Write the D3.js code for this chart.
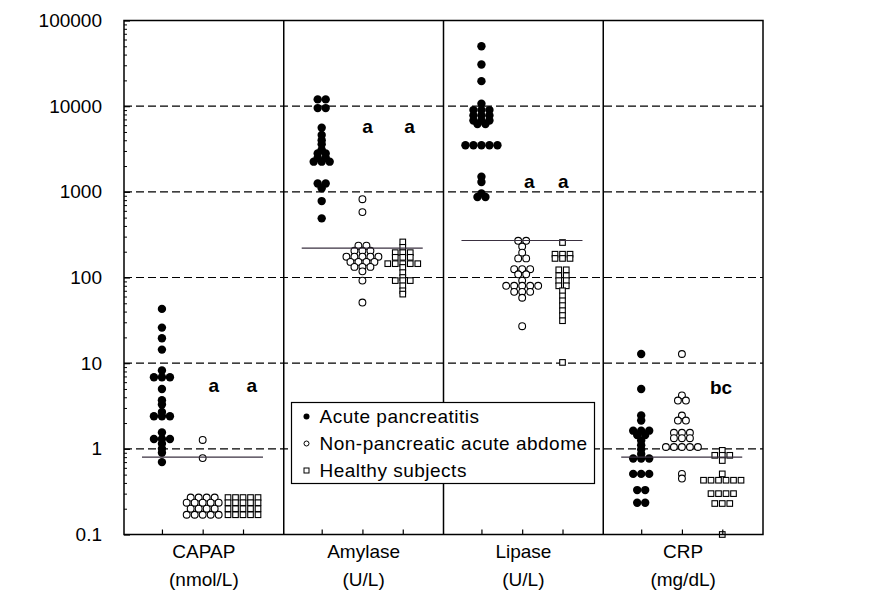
<!DOCTYPE html>
<html>
<head>
<meta charset="utf-8">
<script src="https://cdn.jsdelivr.net/npm/d3@7"></script>
<style>
body { margin: 0; background: #fff; }
text { font-family: "Liberation Sans", Arial, sans-serif; fill: #000; }
</style>
</head>
<body>
<div id="chart"></div>
<script>
// categories and labels
var markers = ["CAPAP", "Amylase", "Lipase", "CRP"];
var markerUnits = ["(nmol/L)", "(U/L)", "(U/L)", "(mg/dL)"];
var groupNames = ["Acute pancreatitis", "Non-pancreatic acute abdome", "Healthy subjects"];
var yTicks = [0.1, 1, 10, 100, 1000, 10000, 100000];
var gridValues = [1, 10, 100, 1000, 10000];

// values (duplicates = points drawn side by side)
var capapAcute = [43, 26, 19.5, 14.4, 8.2, 6.85, 6.85, 6.85, 5.0, 3.7, 3.3, 2.7, 2.4, 2.4, 2.4,
    1.55, 1.3, 1.3, 1.3, 1.15, 1.0, 0.9, 0.7];
var capapNonPanc = [1.27, 0.78, 0.27, 0.27, 0.27, 0.27, 0.235, 0.235, 0.235, 0.235, 0.235,
    0.2, 0.2, 0.2, 0.2, 0.17, 0.17, 0.17, 0.17, 0.17];
var capapHealthy = [0.27, 0.27, 0.27, 0.27, 0.27, 0.235, 0.235, 0.235, 0.235, 0.235,
    0.2, 0.2, 0.2, 0.2, 0.2, 0.17, 0.17, 0.17, 0.17, 0.17];

var amylaseAcute = [12000, 12000, 9500, 9500, 5600, 4600, 4000, 3600, 3100, 2800, 2800,
    2500, 2500, 2250, 2250, 2250, 1250, 1250, 1100, 780, 490];
var amylaseNonPanc = [820, 580, 235, 235, 205, 205, 205, 175, 175, 175, 175, 175,
    152, 152, 152, 152, 133, 133, 133, 118, 92, 51];
var amylaseHealthy = [260, 225, 195, 195, 195, 172, 172, 172, 145, 145, 145, 145, 145,
    131, 114, 100, 92, 92, 92, 80, 70, 64];

var lipaseAcute = [50000, 30700, 19600, 10700, 9000, 9000, 9000, 7800, 7800, 7800,
    6800, 6800, 6800, 6200, 6200, 3500, 3500, 3500, 3500, 3500, 1500, 1300, 960, 870, 870];
var lipaseNonPanc = [268, 268, 230, 195, 167, 167, 125, 125, 125, 109, 109, 92,
    80, 80, 80, 80, 80, 68, 68, 68, 58, 27];
var lipaseHealthy = [256, 187, 187, 187, 167, 167, 167, 123, 123, 105, 105, 92, 92, 80, 80,
    70, 61, 53.5, 47, 41, 36, 31.3, 10.2];

var crpAcute = [12.8, 5.0, 2.45, 2.14, 1.63, 1.63, 1.63, 1.45, 1.45, 1.25, 1.1, 0.98, 0.87,
    0.77, 0.77, 0.77, 0.51, 0.51, 0.51, 0.33, 0.33, 0.235, 0.235];
var crpNonPanc = [12.8, 4.2, 3.66, 3.66, 2.45, 2.14, 2.14, 1.54, 1.54, 1.54, 1.33, 1.33, 1.33,
    1.05, 1.05, 1.05, 1.05, 1.05, 0.51, 0.45];
var crpHealthy = [0.96, 0.84, 0.84, 0.84, 0.73, 0.51, 0.43, 0.43, 0.43, 0.43, 0.43, 0.43,
    0.30, 0.30, 0.30, 0.30, 0.23, 0.23, 0.23, 0.1];

// cut-off lines, one per marker
var cutoffs = [0.8, 220, 270, 0.8];

// significance letters
var letterText = ["a", "a", "a", "a", "a", "a", "bc"];
var letterPos = [2.25, 3.2, 6.1, 7.15, 10.15, 11.0, 14.95];
var letterValue = [5.3, 5.3, 5600, 5600, 1280, 1280, 5.0];

var series = [
    [capapAcute, capapNonPanc, capapHealthy],
    [amylaseAcute, amylaseNonPanc, amylaseHealthy],
    [lipaseAcute, lipaseNonPanc, lipaseHealthy],
    [crpAcute, crpNonPanc, crpHealthy]
];

// position of each group inside a panel (x units, 4 per panel)
var groupOffset = [0.95, 1.97, 2.98];
// horizontal spacing of equal values
var spacing = [8, 8, 7.5];

var width = 873, height = 609;

var x = d3.scaleLinear().domain([0, 16]).range([124, 763]);
var y = d3.scaleLog().domain([0.1, 100000]).range([534.5, 20.5]);

var svg = d3.select("#chart").append("svg")
    .attr("width", width)
    .attr("height", height);

// dashed grid lines
svg.append("g").selectAll("line")
    .data(gridValues)
    .enter().append("line")
    .attr("x1", x(0)).attr("x2", x(16))
    .attr("y1", function(d) { return y(d); })
    .attr("y2", function(d) { return y(d); })
    .attr("stroke", "#000")
    .attr("stroke-width", 1.2)
    .attr("stroke-dasharray", "8,4");

// panel dividers
svg.append("g").selectAll("line")
    .data([4, 8, 12])
    .enter().append("line")
    .attr("x1", function(d) { return x(d); })
    .attr("x2", function(d) { return x(d); })
    .attr("y1", y(100000)).attr("y2", y(0.1))
    .attr("stroke", "#000")
    .attr("stroke-width", 1.5);

// build the points, equal values spread side by side
var points = [];
series.forEach(function(groups, p) {
    groups.forEach(function(vals, g) {
        var counts = d3.rollup(vals, function(v) { return v.length; }, function(v) { return v; });
        var seen = new Map();
        vals.forEach(function(v) {
            var n = counts.get(v);
            var i = seen.get(v) || 0;
            seen.set(v, i + 1);
            points.push({
                panel: p,
                group: g,
                value: v,
                px: x(p * 4 + groupOffset[g]) + (i - (n - 1) / 2) * spacing[g],
                py: y(v)
            });
        });
    });
});

var pts = svg.append("g");

pts.selectAll("circle.acute")
    .data(points.filter(function(d) { return d.group == 0; }))
    .enter().append("circle")
    .attr("class", "acute")
    .attr("cx", function(d) { return d.px; })
    .attr("cy", function(d) { return d.py; })
    .attr("r", 4.2)
    .attr("fill", "#000");

pts.selectAll("circle.nonpanc")
    .data(points.filter(function(d) { return d.group == 1; }))
    .enter().append("circle")
    .attr("class", "nonpanc")
    .attr("cx", function(d) { return d.px; })
    .attr("cy", function(d) { return d.py; })
    .attr("r", 3.4)
    .attr("fill", "#fff")
    .attr("stroke", "#000")
    .attr("stroke-width", 1.1);

pts.selectAll("rect.healthy")
    .data(points.filter(function(d) { return d.group == 2; }))
    .enter().append("rect")
    .attr("class", "healthy")
    .attr("x", function(d) { return d.px - 2.8; })
    .attr("y", function(d) { return d.py - 2.8; })
    .attr("width", 5.6)
    .attr("height", 5.6)
    .attr("fill", "#fff")
    .attr("stroke", "#000")
    .attr("stroke-width", 1.1);

// cut-off lines
svg.append("g").selectAll("line")
    .data(cutoffs)
    .enter().append("line")
    .attr("x1", function(d, i) { return x(i * 4 + groupOffset[0] - 0.5); })
    .attr("x2", function(d, i) { return x(i * 4 + groupOffset[2] + 0.5); })
    .attr("y1", function(d) { return y(d); })
    .attr("y2", function(d) { return y(d); })
    .attr("stroke", "#3a3040")
    .attr("stroke-width", 1.1);

// frame
svg.append("rect")
    .attr("x", x(0)).attr("y", y(100000))
    .attr("width", x(16) - x(0))
    .attr("height", y(0.1) - y(100000))
    .attr("fill", "none")
    .attr("stroke", "#000")
    .attr("stroke-width", 1.5);

// y axis, ticks inside
var minorTicks = [];
for (var k = -1; k < 5; k++) {
    for (var m = 2; m < 10; m++) minorTicks.push(m * Math.pow(10, k));
}

var yAxis = svg.append("g")
    .attr("transform", "translate(" + x(0) + ",0)")
    .call(d3.axisLeft(y).tickValues(yTicks).tickSize(-6).tickPadding(22)
        .tickFormat(function(d) { return d >= 1 ? d3.format("d")(d) : String(d); }));
yAxis.select(".domain").remove();
yAxis.selectAll("text")
    .attr("font-size", 19)
    .attr("font-family", "Liberation Sans, Arial, sans-serif");
yAxis.selectAll("line").attr("stroke-width", 1.2);

var yMinor = svg.append("g")
    .attr("transform", "translate(" + x(0) + ",0)")
    .call(d3.axisLeft(y).tickValues(minorTicks).tickSize(-3).tickFormat(""));
yMinor.select(".domain").remove();

// x axis ticks, pointing up
var xTickPos = [];
markers.forEach(function(m, p) {
    groupOffset.forEach(function(o) { xTickPos.push(p * 4 + o); });
});
var xAxis = svg.append("g")
    .attr("transform", "translate(0," + y(0.1) + ")")
    .call(d3.axisBottom(x).tickValues(xTickPos).tickSize(-5).tickFormat(""));
xAxis.select(".domain").remove();
xAxis.selectAll("line").attr("stroke-width", 1.2);

// category labels
var cat = svg.append("g").selectAll("g")
    .data(markers)
    .enter().append("g");
cat.append("text")
    .attr("x", function(d, i) { return x(i * 4 + 2); })
    .attr("y", 558)
    .attr("text-anchor", "middle")
    .attr("font-size", 19)
    .text(function(d) { return d; });
cat.append("text")
    .attr("x", function(d, i) { return x(i * 4 + 2); })
    .attr("y", 586)
    .attr("text-anchor", "middle")
    .attr("font-size", 19)
    .text(function(d, i) { return markerUnits[i]; });

// significance letters
svg.append("g").selectAll("text")
    .data(letterText)
    .enter().append("text")
    .attr("x", function(d, i) { return x(letterPos[i]); })
    .attr("y", function(d, i) { return y(letterValue[i]); })
    .attr("dy", "0.27em")
    .attr("text-anchor", "middle")
    .attr("font-size", 19)
    .attr("font-weight", "bold")
    .text(function(d) { return d; });

// legend
var legend = svg.append("g")
    .attr("transform", "translate(291.5,402.5)");
legend.append("rect")
    .attr("width", 303)
    .attr("height", 81)
    .attr("fill", "#fff")
    .attr("stroke", "#000")
    .attr("stroke-width", 1.2);

var item = legend.selectAll("g.item")
    .data(groupNames)
    .enter().append("g")
    .attr("class", "item")
    .attr("transform", function(d, i) { return "translate(0," + (14 + i * 27) + ")"; });

item.each(function(d, i) {
    var g = d3.select(this);
    if (i == 0) {
        g.append("circle").attr("cx", 15).attr("r", 3).attr("fill", "#000");
    } else if (i == 1) {
        g.append("circle").attr("cx", 15).attr("r", 2.5)
            .attr("fill", "#fff").attr("stroke", "#000").attr("stroke-width", 1);
    } else {
        g.append("rect").attr("x", 12.5).attr("y", -2.5).attr("width", 5).attr("height", 5)
            .attr("fill", "#fff").attr("stroke", "#000").attr("stroke-width", 1);
    }
});

item.append("text")
    .attr("x", 28)
    .attr("dy", "0.36em")
    .attr("font-size", 19)
    .attr("letter-spacing", "0.5px")
    .text(function(d) { return d; });
</script>
</body>
</html>
